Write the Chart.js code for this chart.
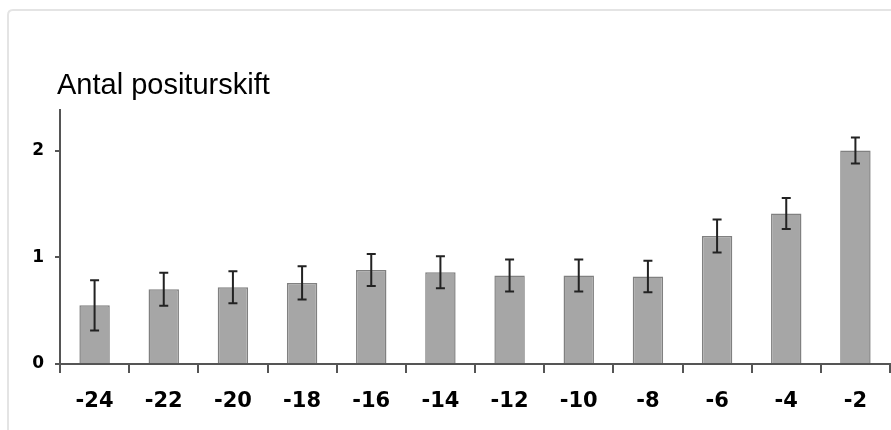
<!DOCTYPE html>
<html>
<head>
<meta charset="utf-8">
<script src="https://cdn.jsdelivr.net/npm/chart.js@4/dist/chart.umd.min.js"></script>
<style>
  html, body { margin: 0; padding: 0; background: #ffffff; }
  #wrap { width: 891px; height: 430px; position: relative; }
</style>
</head>
<body>
<div id="wrap"><canvas id="c" width="891" height="430"></canvas></div>
<script>
// Hours before the event
const categories = ['-24', '-22', '-20', '-18', '-16', '-14', '-12', '-10', '-8', '-6', '-4', '-2'];
// Mean number of posture shifts
const means = [0.55, 0.70, 0.72, 0.76, 0.88, 0.86, 0.83, 0.83, 0.82, 1.20, 1.41, 2.00];
// Standard error of each mean
const errors = [0.235, 0.155, 0.15, 0.155, 0.15, 0.15, 0.15, 0.15, 0.147, 0.155, 0.146, 0.122];
const yTicks = [0, 1, 2];
const chartTitle = 'Antal positurskift';

// Light rounded frame around the figure
const framePlugin = {
  id: 'frame',
  beforeDraw(chart) {
    const ctx = chart.ctx;
    ctx.save();
    ctx.strokeStyle = '#e4e4e4';
    ctx.lineWidth = 2;
    const x = 8, y = 10, w = chart.width + 20, h = chart.height + 20, r = 5;
    ctx.beginPath();
    ctx.moveTo(x + r, y);
    ctx.lineTo(x + w, y);
    ctx.moveTo(x, y + h);
    ctx.lineTo(x, y + r);
    ctx.quadraticCurveTo(x, y, x + r, y);
    ctx.stroke();
    ctx.restore();
  }
};

// Title text above the value axis
const titlePlugin = {
  id: 'axisTitle',
  afterDraw(chart) {
    const ctx = chart.ctx;
    ctx.save();
    ctx.font = '29px "Liberation Sans", Arial, sans-serif';
    ctx.fillStyle = '#000000';
    ctx.textAlign = 'left';
    ctx.textBaseline = 'alphabetic';
    ctx.fillText(chartTitle, chart.chartArea.left - 3, 94);
    ctx.restore();
  }
};

// Error bars with caps, drawn from the mean and error arrays
const errorBarPlugin = {
  id: 'errorBars',
  afterDatasetsDraw(chart) {
    const ctx = chart.ctx;
    const meta = chart.getDatasetMeta(0);
    const yScale = chart.scales.y;
    ctx.save();
    ctx.strokeStyle = '#222222';
    ctx.lineWidth = 2;
    meta.data.forEach((bar, i) => {
      const x = bar.x;
      const yHi = yScale.getPixelForValue(means[i] + errors[i]);
      const yLo = yScale.getPixelForValue(means[i] - errors[i]);
      const cap = 4.5;
      ctx.beginPath();
      ctx.moveTo(x, yHi); ctx.lineTo(x, yLo);
      ctx.moveTo(x - cap, yHi); ctx.lineTo(x + cap, yHi);
      ctx.moveTo(x - cap, yLo); ctx.lineTo(x + cap, yLo);
      ctx.stroke();
    });
    ctx.restore();
  }
};

new Chart(document.getElementById('c'), {
  type: 'bar',
  data: {
    labels: categories,
    datasets: [{
      data: means,
      backgroundColor: '#a6a6a6',
      borderColor: '#808080',
      borderWidth: 1.5,
      barPercentage: 0.44,
      categoryPercentage: 1.0
    }]
  },
  options: {
    responsive: false,
    animation: false,
    devicePixelRatio: 1,
    layout: { padding: { top: 110, right: 1, left: 0, bottom: 0 } },
    plugins: {
      legend: { display: false },
      tooltip: { enabled: false },
      title: { display: false }
    },
    scales: {
      x: {
        offset: true,
        grid: {
          offset: true,
          drawOnChartArea: false,
          drawTicks: true,
          tickLength: 9,
          color: '#555555',
          lineWidth: 2
        },
        border: { display: true, color: '#555555', width: 2 },
        ticks: {
          color: '#000000',
          padding: 16,
          maxRotation: 0,
          autoSkip: false,
          font: { family: '"DejaVu Sans", sans-serif', size: 21, weight: 'bold' }
        },
        afterFit(scale) { scale.height = 66; }
      },
      y: {
        min: 0,
        max: 2.38,
        afterBuildTicks(scale) { scale.ticks = yTicks.map(v => ({ value: v })); },
        grid: {
          drawOnChartArea: false,
          drawTicks: true,
          tickLength: 5,
          color: '#555555',
          lineWidth: 2
        },
        border: { display: true, color: '#555555', width: 2 },
        ticks: {
          color: '#000000',
          padding: 11,
          font: { family: '"DejaVu Sans", sans-serif', size: 17, weight: 'bold' }
        },
        afterFit(scale) { scale.width = 60; }
      }
    }
  },
  plugins: [framePlugin, titlePlugin, errorBarPlugin]
});
</script>
</body>
</html>
